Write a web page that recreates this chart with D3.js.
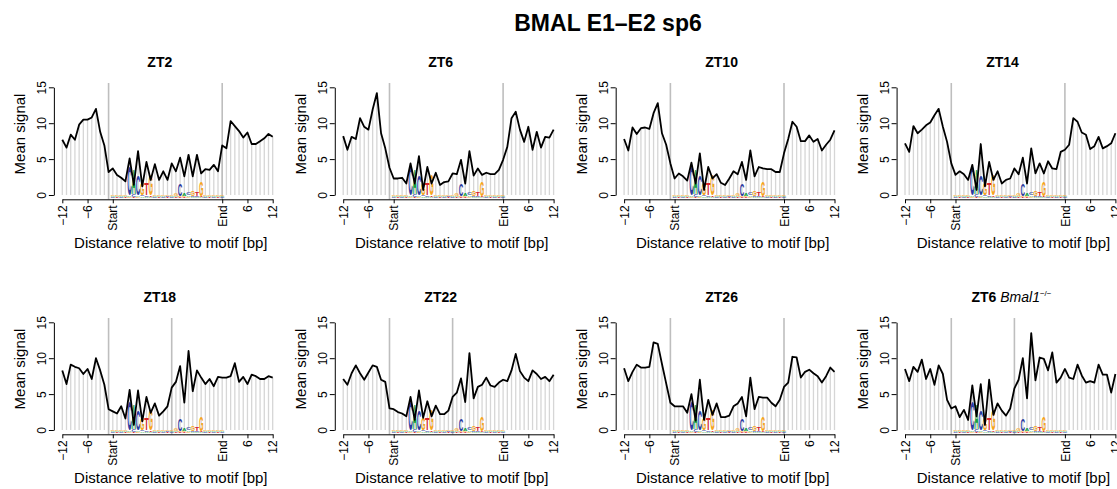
<!DOCTYPE html>
<html>
<head>
<meta charset="utf-8">
<script src="https://cdn.jsdelivr.net/npm/d3@7"></script>
<style>
  body { margin: 0; background: #fff; }
  svg { font-family: "Liberation Sans", Arial, Helvetica, sans-serif; }
</style>
</head>
<body>
<svg id="chart" width="1117" height="489"></svg>
<script>
// Mean signal per position: 12 bp left flank, 27 bp motif, 12 bp right flank
const zt2  = [7.7,6.6,8.4,7.7,9.8,10.5,10.5,10.8,12.0,8.8, 6.9,3.2,3.7,2.8,2.4,1.9,5.1,1.4,6.1,1.2,
              4.6,2.1,4.3,2.1,3.3,2.1,4.4,3.3,5.2,2.6, 5.6,2.6,5.6,3.0,3.6,3.5,4.2,3.3,6.9,6.5,
              10.3,9.6,8.9,8.0,8.7,7.1,7.1,7.5,7.9,8.5,8.1];
const zt6  = [8.2,6.3,8.1,7.8,10.7,9.5,9.1,11.9,14.2,8.6, 6.5,3.8,2.3,2.3,2.4,1.6,4.4,1.6,5.4,0.7,
              3.9,1.6,3.1,1.4,1.8,1.9,3.0,2.9,4.9,1.6, 6.1,2.7,3.7,2.8,3.1,2.9,2.9,3.5,4.9,6.7,
              10.7,11.6,9.1,7.4,9.5,6.3,8.8,6.6,8.1,8.0,9.1];
const zt10 = [7.8,6.2,9.4,8.5,9.3,9.4,9.2,11.4,12.8,8.6, 7.0,4.4,2.3,3.0,2.6,2.0,4.5,1.6,5.8,0.7,
              3.9,2.3,2.9,1.7,1.4,2.3,3.3,2.9,4.6,2.1, 6.2,2.6,3.9,3.7,3.6,3.6,3.2,3.2,5.8,7.8,
              10.2,9.5,7.5,7.5,8.3,7.4,7.8,6.2,7.0,7.7,9.0];
const zt14 = [7.2,6.0,9.6,8.6,9.1,9.7,10.1,11.1,12.0,9.5, 7.4,4.4,2.8,3.3,2.9,2.1,4.2,0.7,7.1,1.2,
              4.6,2.1,3.3,1.6,2.1,2.3,3.7,2.9,5.2,1.6, 6.5,3.0,4.4,3.0,4.7,3.7,3.6,6.0,6.3,7.0,
              10.7,10.2,8.7,8.4,6.4,6.8,8.1,6.5,6.8,7.2,8.6];
const zt18 = [8.3,6.4,9.1,8.8,8.6,7.8,8.5,7.1,10.0,8.3, 6.3,2.9,2.6,2.3,3.3,1.6,5.6,0.7,5.5,1.2,
              4.6,2.4,3.7,2.0,2.6,3.3,5.9,6.7,8.9,3.8, 11.0,5.4,8.3,7.3,6.4,7.1,6.1,7.4,7.3,7.3,
              7.5,9.3,6.7,7.4,6.4,7.7,7.5,7.1,7.1,7.5,7.3];
const zt22 = [7.1,6.3,7.9,9.0,7.9,7.0,8.0,9.0,8.8,7.0, 6.7,3.0,2.9,2.5,2.3,1.9,4.6,1.4,5.5,1.7,
              4.0,1.9,3.4,2.2,2.2,2.7,4.6,5.2,7.2,3.9, 10.7,4.4,6.0,6.3,7.3,6.2,6.0,6.6,7.0,6.8,
              8.3,10.6,8.2,7.3,6.8,8.3,7.8,7.1,7.4,6.8,7.7];
const zt26 = [8.6,6.8,8.1,9.1,8.7,8.7,8.8,12.2,12.0,9.2, 6.5,3.8,3.3,3.3,3.3,2.4,5.0,1.3,7.0,1.4,
              4.2,2.1,3.7,1.8,1.8,2.0,3.3,3.7,4.6,1.9, 7.3,2.9,4.6,4.5,4.5,3.8,3.3,4.2,6.0,6.6,
              10.2,10.1,7.3,8.1,8.4,7.9,7.5,6.6,7.5,8.7,8.1];
const zt6ko = [8.5,6.8,8.8,8.1,9.8,7.1,8.5,6.3,9.0,7.8, 4.2,3.0,3.3,1.8,2.8,1.4,6.2,1.9,6.4,0.7,
               7.0,2.1,3.7,2.7,2.0,3.0,5.8,7.0,10.0,4.4, 13.5,6.9,10.1,9.9,8.3,10.8,6.6,7.3,8.5,7.3,
               7.1,9.1,7.6,6.6,6.8,6.6,9.1,7.7,7.7,5.2,7.8];

const panelData   = [zt2, zt6, zt10, zt14, zt18, zt22, zt26, zt6ko];
const panelTitles = ["ZT2", "ZT6", "ZT10", "ZT14", "ZT18", "ZT22", "ZT26", "ZT6"];
// positions of the grey reference lines per panel
const markLines   = [[12,39],[12,39],[12,39],[12,39],[12,27],[12,27],[12,39],[12,27]];

const xTickPos    = [1, 7, 13, 39, 45, 51];
const xTickLabels = ["\u221212", "\u22126", "Start", "End", "6", "12"];
const yTicks      = [0, 5, 10, 15];

// sequence logo over motif positions 13..39, letters stacked bottom -> top
const logoStart = 13;
const logoCols = [
  [["C",0.12],["A",0.14],["G",0.18]],
  [["T",0.12],["A",0.14],["G",0.18]],
  [["C",0.12],["A",0.14],["G",0.2]],
  [["T",0.12],["A",0.15],["G",0.22]],
  [["G",0.15],["A",0.2],["C",4.0]],
  [["T",0.15],["C",0.35],["A",3.5]],
  [["G",0.15],["A",0.25],["C",2.8]],
  [["A",0.2],["C",0.25],["G",1.7]],
  [["A",0.15],["C",0.2],["T",1.6]],
  [["A",0.15],["T",0.2],["G",2.9]],
  [["C",0.12],["A",0.14],["G",0.18]],
  [["T",0.12],["A",0.14],["G",0.2]],
  [["C",0.12],["A",0.14],["G",0.18]],
  [["T",0.12],["C",0.14],["G",0.2]],
  [["C",0.12],["A",0.15],["G",0.24]],
  [["T",0.13],["A",0.16],["G",0.26]],
  [["T",0.12],["G",0.18],["C",1.6]],
  [["T",0.12],["G",0.16],["A",0.4]],
  [["G",0.14],["A",0.22],["C",0.35]],
  [["A",0.13],["C",0.17],["G",0.7]],
  [["A",0.13],["C",0.15],["T",0.55]],
  [["A",0.13],["T",0.16],["G",2.1]],
  [["C",0.12],["A",0.14],["G",0.2]],
  [["T",0.12],["A",0.14],["G",0.18]],
  [["C",0.12],["A",0.13],["G",0.18]],
  [["T",0.12],["A",0.13],["G",0.17]],
  [["C",0.12],["A",0.13],["G",0.16]]
];
const letterColor = { A: "#17a043", C: "#2c3b9f", G: "#f7a51c", T: "#d9232b" };
const letterW = { A: 0.722, C: 0.722, G: 0.778, T: 0.611 };

////////////////////////////////////////////////////////////////////////
// layout

const svg = d3.select("#chart");
const colStep = 280.9, rowStep = 235;
const xSpan = 210.4, ySpan = 107.7;

svg.append("text")
  .attr("x", 608).attr("y", 31)
  .attr("text-anchor", "middle")
  .attr("font-size", 23).attr("font-weight", "bold")
  .text("BMAL E1\u2013E2 sp6");

panelData.forEach((vals, p) => {
  const col = p % 4, row = Math.floor(p / 4);
  const x0 = 62.3 + col * colStep;     // pixel of -12
  const y0 = 195 + row * rowStep;      // pixel of signal 0

  const x = d3.scaleLinear().domain([1, 51]).range([x0, x0 + xSpan]);
  const y = d3.scaleLinear().domain([0, 15]).range([y0, y0 - ySpan]);
  const g = svg.append("g").attr("class", "panel");

  // grey histogram-style bars
  g.append("g").selectAll("line")
    .data(vals)
    .join("line")
    .attr("x1", (d, i) => x(i + 1)).attr("x2", (d, i) => x(i + 1))
    .attr("y1", y(0)).attr("y2", d => y(d))
    .attr("stroke", "#d6d6d6").attr("stroke-width", 1.3);

  // reference lines
  g.append("g").selectAll("line")
    .data(markLines[p])
    .join("line")
    .attr("x1", d => x(d)).attr("x2", d => x(d))
    .attr("y1", y(-0.6)).attr("y2", y(15.6))
    .attr("stroke", "#bebebe").attr("stroke-width", 1.6);

  // sequence logo
  const logo = g.append("g");
  const w = (x(2) - x(1)) * 1.08;
  logoCols.forEach((stack, k) => {
    let base = -0.4;
    const cx = x(logoStart + k);
    stack.forEach(([l, h]) => {
      const yb = y(base);
      const hp = y(0) - y(h);
      logo.append("text")
        .attr("font-size", 10).attr("font-weight", "bold")
        .attr("text-anchor", "middle")
        .attr("fill", letterColor[l])
        .attr("transform", `translate(${cx},${yb}) scale(${w / (letterW[l] * 10)},${hp / 7.16})`)
        .text(l);
      base += h;
    });
  });

  // mean signal line
  g.append("path")
    .datum(vals)
    .attr("fill", "none")
    .attr("stroke", "#000")
    .attr("stroke-width", 1.8)
    .attr("stroke-linejoin", "round")
    .attr("d", d3.line().x((d, i) => x(i + 1)).y(d => y(d)));

  // axes
  const yAxis = g.append("g")
    .attr("transform", `translate(${x(-1)},0)`)
    .call(d3.axisLeft(y).tickValues(yTicks).tickSize(5).tickSizeOuter(0).tickFormat(d3.format("d")));
  yAxis.selectAll("text")
    .attr("transform", "rotate(-90)")
    .attr("text-anchor", "middle")
    .attr("x", 0).attr("y", -8).attr("dy", 0)
    .attr("font-size", 12).attr("font-family", null);

  const xAxis = g.append("g")
    .attr("transform", `translate(0,${y(-0.6)})`)
    .call(d3.axisBottom(x).tickValues(xTickPos).tickSize(4).tickSizeOuter(0)
      .tickFormat((d, i) => xTickLabels[i]));
  xAxis.selectAll("text")
    .attr("transform", "rotate(-90)")
    .attr("text-anchor", "end")
    .attr("x", -6).attr("y", 0).attr("dy", "0.35em")
    .attr("font-size", 12).attr("font-family", null);
  g.selectAll(".domain, .tick line").attr("stroke", "#000");

  // titles and labels
  const t = g.append("text")
    .attr("x", x0 + 97.5 + (p === 7 ? 9 : 0)).attr("y", y0 - 128)
    .attr("text-anchor", "middle")
    .attr("font-size", 14).attr("font-weight", "bold")
    .text(panelTitles[p]);
  if (p === 7) {
    t.append("tspan").attr("font-weight", "normal").attr("font-style", "italic").text(" Bmal1");
    t.append("tspan").attr("font-weight", "normal").attr("font-size", 8).attr("dy", -6).text("\u2212/\u2212");
  }

  g.append("text")
    .attr("transform", `translate(${x0 - 37},${y0 - 61}) rotate(-90)`)
    .attr("text-anchor", "middle")
    .attr("font-size", 15)
    .text("Mean signal");

  g.append("text")
    .attr("x", x0 + 108.5).attr("y", y0 + 53)
    .attr("text-anchor", "middle")
    .attr("font-size", 15)
    .text("Distance relative to motif [bp]");
});
</script>
</body>
</html>
